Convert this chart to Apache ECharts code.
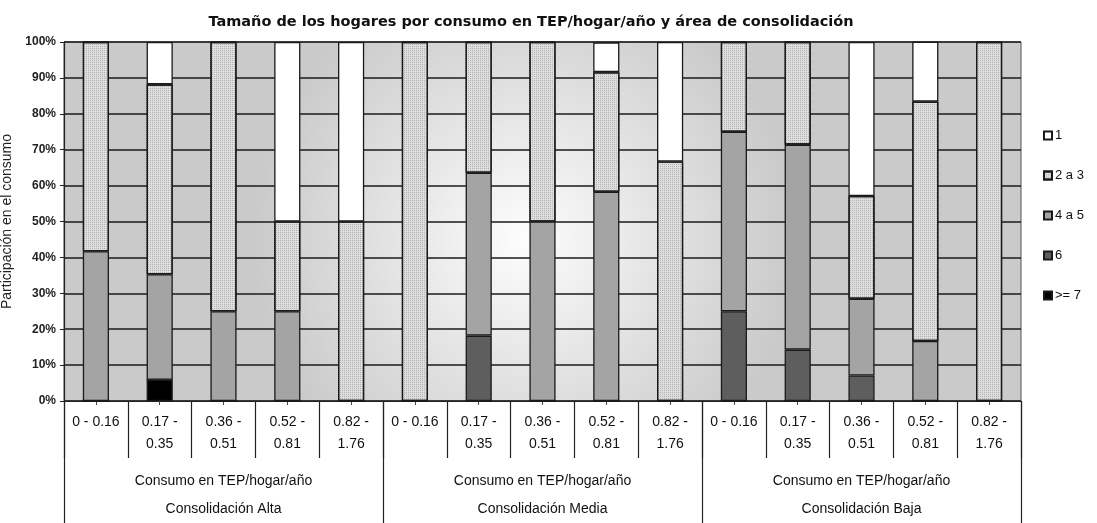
<!DOCTYPE html>
<html>
<head>
<meta charset="utf-8">
<script src="https://cdn.jsdelivr.net/npm/echarts@6/dist/echarts.min.js"></script>
<style>
  html, body { margin: 0; padding: 0; background: #fff; }
  #chart { width: 1097px; height: 523px; }
</style>
</head>
<body>
<div id="chart"></div>
<script>
// rangos de consumo (TEP/hogar/año), repetidos por área
const rangos = ['0 - 0.16', '0.17 -\n0.35', '0.36 -\n0.51', '0.52 -\n0.81', '0.82 -\n1.76']
const areas = ['Consolidación Alta', 'Consolidación Media', 'Consolidación Baja']
const categorias = areas.flatMap(() => rangos)

// participación (%) por tamaño del hogar, 15 columnas (Alta, Media, Baja)
const siete = [0, 5.9, 0, 0, 0, 0, 0, 0, 0, 0, 0, 0, 0, 0, 0]
const seis = [0, 0, 0, 0, 0, 0, 18.2, 0, 0, 0, 25, 14.3, 7.1, 0, 0]
const cuatroCinco = [41.7, 29.4, 25, 25, 0, 0, 45.4, 50, 58.3, 0, 50, 57.1, 21.4, 16.7, 0]
const dosTres = [58.3, 52.9, 75, 25, 50, 100, 36.4, 50, 33.3, 66.7, 25, 28.6, 28.6, 66.7, 100]
const uno = [0, 11.8, 0, 50, 50, 0, 0, 0, 8.3, 33.3, 0, 0, 42.9, 16.7, 0]

const yTicks = [0, 10, 20, 30, 40, 50, 60, 70, 80, 90, 100]

const chart = echarts.init(document.getElementById('chart'))

const borde = { borderColor: '#1a1a1a', borderWidth: 1.3 }

const serie = (name, data, color, extra) => ({
  name,
  type: 'bar',
  stack: 'total',
  data,
  barWidth: '41%',
  itemStyle: { color, ...borde, ...(extra || {}) },
  emphasis: { disabled: true },
})

chart.setOption({
  animation: false,
  textStyle: { fontFamily: 'Liberation Sans, Arial, sans-serif' },
  title: {
    text: 'Tamaño de los hogares por consumo en TEP/hogar/año y área de consolidación',
    left: 526,
    textAlign: 'center',
    top: 10,
    textStyle: { fontFamily: 'DejaVu Sans', fontWeight: 'bold', fontSize: 14.5, color: '#111' },
  },
  legend: {
    orient: 'vertical',
    left: 1038,
    top: 124,
    itemGap: 27,
    itemWidth: 8,
    itemHeight: 8,
    icon: 'rect',
    data: ['1', '2 a 3', '4 a 5', '6', '>= 7'],
    textStyle: { fontSize: 13, color: '#111', padding: [0, 0, 0, -2] },
  },
  grid: {
    left: 64,
    right: 76,
    top: 42,
    bottom: 122,
    outerBoundsMode: 'none',
    containLabel: false,
    show: true,
    borderColor: '#555',
    borderWidth: 1,
    backgroundColor: {
      type: 'radial', x: 0.48, y: 0.55, r: 0.75,
      colorStops: [
        { offset: 0, color: '#fdfdfd' },
        { offset: 1, color: '#cacaca' },
      ],
    },
  },
  xAxis: [
    {
      type: 'category',
      data: categorias,
      position: 'bottom',
      axisLine: { lineStyle: { color: '#222', width: 1.2 } },
      axisTick: { show: true, alignWithLabel: true, length: 4, lineStyle: { color: '#444' } },
      axisLabel: { interval: 0, fontSize: 14, color: '#111', lineHeight: 22, margin: 10 },
    },
    {
      type: 'category',
      data: categorias,
      position: 'bottom',
      axisLine: { show: false },
      axisTick: { show: true, length: 57, interval: 0, lineStyle: { color: '#222', width: 1.2 } },
      axisLabel: { show: false },
    },
    {
      type: 'category',
      data: areas.map(a => 'Consumo en TEP/hogar/año\n' + a),
      position: 'bottom',
      axisLine: { show: false },
      axisTick: { show: true, length: 122, interval: 0, lineStyle: { color: '#222', width: 1.2 } },
      axisLabel: { interval: 0, fontSize: 14, color: '#111', lineHeight: 28, margin: 66 },
    },
  ],
  yAxis: {
    type: 'value',
    min: 0,
    max: 100,
    interval: 10,
    name: 'Participación en el consumo',
    nameLocation: 'middle',
    nameGap: 39,
    nameTextStyle: { fontSize: 14, color: '#222' },
    axisLine: { show: true, lineStyle: { color: '#222', width: 1.2 } },
    axisTick: { show: true, length: 4, lineStyle: { color: '#222' } },
    axisLabel: {
      fontSize: 12,
      fontWeight: 'bold',
      color: '#222',
      margin: 8,
      formatter: v => (yTicks.includes(v) ? v + '%' : ''),
    },
    splitLine: { show: true, lineStyle: { color: '#1a1a1a', width: 1.5 } },
  },
  series: [
    serie('>= 7', siete, '#000000'),
    serie('6', seis, '#5e5e5e'),
    serie('4 a 5', cuatroCinco, '#a4a4a4'),
    serie('2 a 3', dosTres, '#dedede', {
      decal: {
        symbol: 'rect',
        symbolSize: 1,
        dashArrayX: [1, 1],
        dashArrayY: [1, 1],
        color: 'rgba(150,150,150,0.6)',
      },
    }),
    serie('1', uno, '#ffffff'),
  ],
})
</script>
</body>
</html>
